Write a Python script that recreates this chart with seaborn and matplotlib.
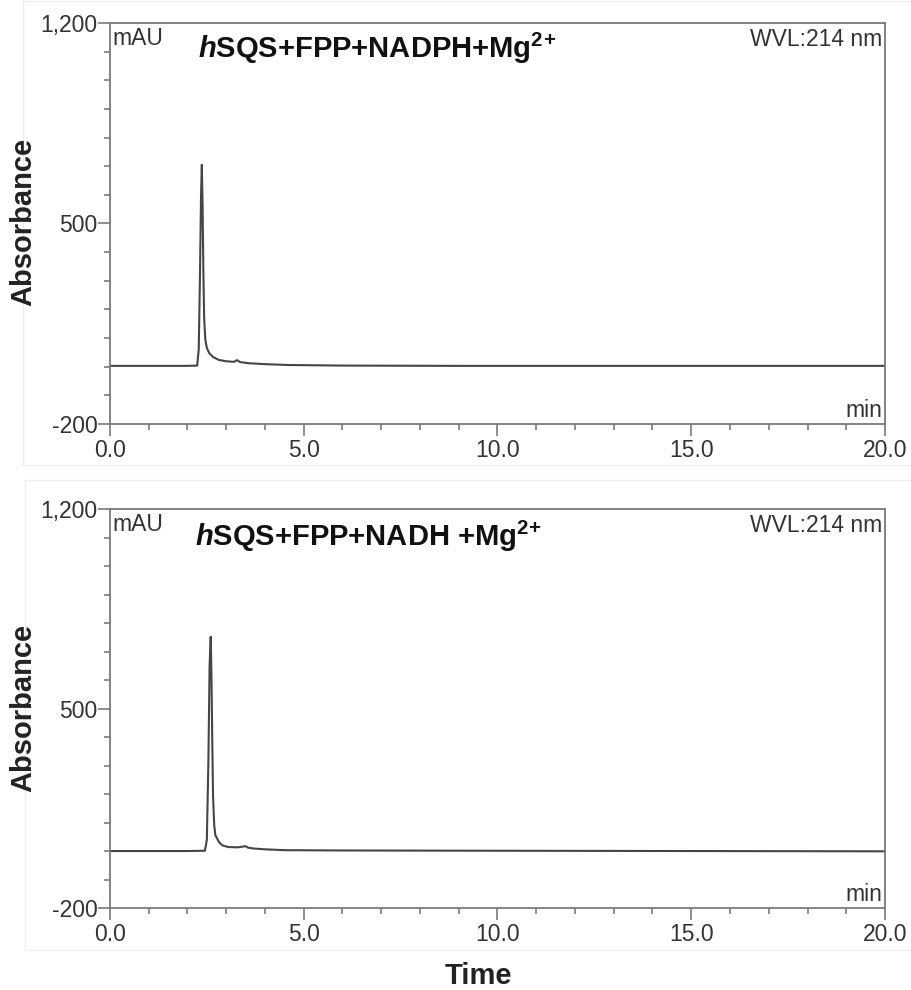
import matplotlib

matplotlib.use('Agg')
import matplotlib.pyplot as plt
import seaborn as sns
import pandas as pd
from matplotlib.ticker import MultipleLocator, FuncFormatter, FixedLocator
from matplotlib.patches import Rectangle

# chromatogram traces (time in min, absorbance in mAU)
time_nadph = [0.0, 1.0, 2.0, 2.25, 2.29, 2.32, 2.35, 2.37, 2.39, 2.41, 2.43, 2.46, 2.50,
              2.56, 2.65, 2.80, 3.00, 3.20, 3.28, 3.36, 3.60, 4.00, 4.60, 6.0, 9.0, 13.0, 17.0, 20.0]
abs_nadph = [3, 3, 3, 4, 60, 300, 600, 705, 560, 330, 170, 95, 65,
             48, 35, 24, 19, 17, 23, 16, 12, 9, 6, 4, 3, 3, 3, 3]

time_nadh = [0.0, 1.0, 2.0, 2.45, 2.50, 2.54, 2.57, 2.60, 2.62, 2.64, 2.66, 2.69, 2.72,
             2.76, 2.82, 2.90, 3.05, 3.30, 3.50, 3.56, 3.70, 4.00, 4.50, 6.0, 10.0, 15.0, 20.0]
abs_nadh = [0, 0, 0, 1, 40, 320, 650, 752, 600, 380, 190, 90, 55,
            45, 30, 20, 14, 13, 17, 12, 9, 6, 3, 2, 1, 0, -1]

titles = [r"$h$SQS+FPP+NADPH+Mg$^{2}$$^{+}$", r"$h$SQS+FPP+NADH +Mg$^{2}$$^{+}$"]
x_ticks = [0, 5, 10, 15, 20]
y_ticks = [-200, 500, 1200]

sns.set_style('ticks')
plt.rcParams['font.family'] = ['Liberation Sans', 'DejaVu Sans']
plt.rcParams['mathtext.fontset'] = 'custom'
plt.rcParams['mathtext.rm'] = 'Liberation Sans:bold'
plt.rcParams['mathtext.it'] = 'Liberation Sans:bold:italic'
plt.rcParams['mathtext.bf'] = 'Liberation Sans:bold'

axis_grey = '#7a7a7a'
trace_grey = '#454545'

fig = plt.figure(figsize=(9.12, 9.9), dpi=100)
ax1 = fig.add_axes([0.1206, 0.5717, 0.8498, 0.4051])
ax2 = fig.add_axes([0.1206, 0.0828, 0.8498, 0.4030])

# faint frames around each panel
fig.add_artist(Rectangle((0.025, 0.530), 0.975, 0.469, transform=fig.transFigure,
                         fill=False, edgecolor='#ededed', lw=1, zorder=0))
fig.add_artist(Rectangle((0.027, 0.040), 0.973, 0.475, transform=fig.transFigure,
                         fill=False, edgecolor='#ededed', lw=1, zorder=0))

traces = [(time_nadph, abs_nadph), (time_nadh, abs_nadh)]
title_pos = [(0.1135, 0.913), (0.110, 0.907)]

for ax, (t, a), title, tpos in zip([ax1, ax2], traces, titles, title_pos):
    df = pd.DataFrame({'time': t, 'abs': a})
    sns.lineplot(data=df, x='time', y='abs', ax=ax, color=trace_grey, lw=1.5)
    ax.set_xlim(0, 20)
    ax.set_ylim(-200, 1200)
    ax.set_xlabel('')
    ax.set_ylabel('')

    ax.xaxis.set_major_locator(FixedLocator(x_ticks))
    ax.xaxis.set_minor_locator(MultipleLocator(1))
    ax.yaxis.set_major_locator(FixedLocator(y_ticks))
    ax.yaxis.set_minor_locator(MultipleLocator(100))
    ax.xaxis.set_major_formatter(FuncFormatter(lambda v, p: f'{v:.1f}'))
    ax.yaxis.set_major_formatter(FuncFormatter(lambda v, p: f'{v:,.0f}'))

    for s in ax.spines.values():
        s.set_color(axis_grey)
        s.set_linewidth(1.3)
    ax.tick_params(which='major', direction='out', length=8.5, width=1.2,
                   color=axis_grey, labelsize=16.5, labelcolor='#333333', pad=2)
    ax.tick_params(which='minor', direction='out', length=4.5, width=1.2, color=axis_grey)
    ax.tick_params(axis='y', which='major', pad=0.5)

    ax.text(0.003, 0.945, 'mAU', transform=ax.transAxes, fontsize=16.5,
            color='#333333', ha='left', va='baseline')
    ax.text(0.996, 0.943, 'WVL:214 nm', transform=ax.transAxes, fontsize=16.5,
            color='#333333', ha='right', va='baseline')
    ax.text(0.996, 0.018, 'min', transform=ax.transAxes, fontsize=16.5,
            color='#333333', ha='right', va='baseline')
    ax.text(tpos[0], tpos[1], title, transform=ax.transAxes, fontsize=21,
            weight='bold', color='#111111', ha='left', va='baseline')

fig.text(0.026, 0.776, 'Absorbance', rotation=90, fontsize=21, weight='bold',
         color='#222222', ha='center', va='center')
fig.text(0.026, 0.285, 'Absorbance', rotation=90, fontsize=21, weight='bold',
         color='#222222', ha='center', va='center')
fig.text(0.524, 0.006, 'Time', fontsize=21, weight='bold', color='#222222',
         ha='center', va='baseline')

plt.savefig('out.png', dpi=100)
plt.close(fig)
